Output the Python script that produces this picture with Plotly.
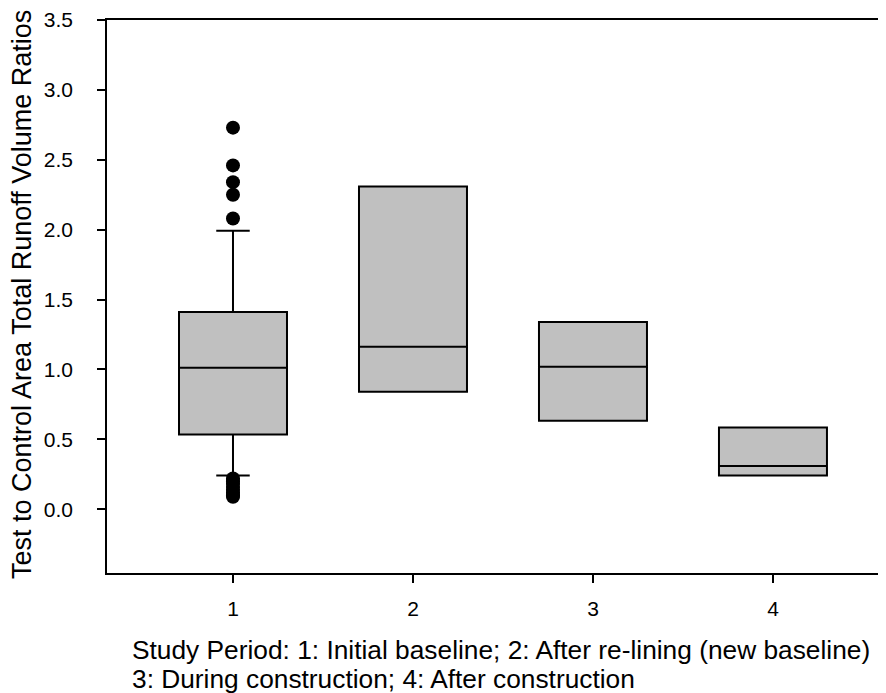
import plotly.graph_objects as go

periods = [1, 2, 3, 4]
q1 = [0.535, 0.841, 0.634, 0.242]
median = [1.012, 1.162, 1.019, 0.309]
q3 = [1.411, 2.309, 1.340, 0.584]
lower_fence = [0.242, 0.841, 0.634, 0.242]
upper_fence = [1.993, 2.309, 1.340, 0.584]

outlier_x = [1, 1, 1, 1, 1, 1, 1, 1, 1, 1, 1, 1, 1]
outlier_y = [2.73, 2.46, 2.34, 2.25, 2.08, 0.22, 0.20, 0.18, 0.16, 0.14, 0.12, 0.10, 0.09]

y_ticks = [0.0, 0.5, 1.0, 1.5, 2.0, 2.5, 3.0, 3.5]

FONT = "Arial, Liberation Sans, sans-serif"

fig = go.Figure()
fig.add_trace(go.Box(
    x=periods, q1=q1, median=median, q3=q3,
    lowerfence=lower_fence, upperfence=upper_fence,
    width=0.6, whiskerwidth=0.31,
    fillcolor="#c0c0c0",
    line=dict(color="black", width=2),
    boxpoints=False, hoverinfo="skip",
))
fig.add_trace(go.Scatter(
    x=outlier_x, y=outlier_y, mode="markers",
    marker=dict(color="black", size=14),
    hoverinfo="skip",
))

# page has an 8px body margin; compensate so the plot lands where the reference is
OFF = 8
PL, PT, PB, PR = 107, 18, 573, 886  # plot area in page pixels
W, H = 886 - OFF, 693 - OFF
L, T, B = PL - OFF, PT - OFF, 693 - PB
plot_w = PR - PL
plot_h = PB - PT


def px(x):
    return (x - PL) / plot_w


def py(y):
    return (PB - y) / plot_h


fig.update_layout(
    width=W, height=H,
    margin=dict(l=L, r=0, t=T, b=B, pad=0),
    paper_bgcolor="white", plot_bgcolor="white",
    showlegend=False,
    font=dict(family=FONT, color="black", size=21),
    xaxis=dict(
        range=[0.3, 4.628],
        tickvals=periods, ticktext=[str(p) for p in periods],
        ticks="outside", ticklen=8, tickwidth=1.5, tickcolor="black",
        ticklabelstandoff=8,
        showline=True, linecolor="black", linewidth=1.5, mirror=True,
        showgrid=False, zeroline=False,
        tickfont=dict(size=21, family=FONT),
    ),
    yaxis=dict(
        range=[-0.456, 3.5],
        tickvals=y_ticks, ticktext=[f"{v:.1f}" for v in y_ticks],
        ticks="outside", ticklen=8, tickwidth=1.5, tickcolor="black",
        ticklabelstandoff=20, ticklabeloverflow="allow",
        showline=True, linecolor="black", linewidth=1.5, mirror=False,
        showgrid=False, zeroline=False,
        tickfont=dict(size=21, family=FONT),
    ),
    annotations=[
        dict(
            text="Test to Control Area Total Runoff Volume Ratios",
            xref="paper", yref="paper",
            x=px(22), y=py(294),
            xanchor="center", yanchor="middle",
            textangle=-90, showarrow=False,
            font=dict(size=27, family=FONT, color="black"),
        ),
        dict(
            text="Study Period: 1: Initial baseline; 2: After re-lining (new baseline)",
            xref="paper", yref="paper",
            x=px(130), y=py(650),
            xanchor="left", yanchor="middle", align="left",
            showarrow=False,
            font=dict(size=26.3, family=FONT, color="black"),
        ),
        dict(
            text="3: During construction; 4: After construction",
            xref="paper", yref="paper",
            x=px(130), y=py(679),
            xanchor="left", yanchor="middle", align="left",
            showarrow=False,
            font=dict(size=26.3, family=FONT, color="black"),
        ),
    ],
)

fig.write_html("out.html")
